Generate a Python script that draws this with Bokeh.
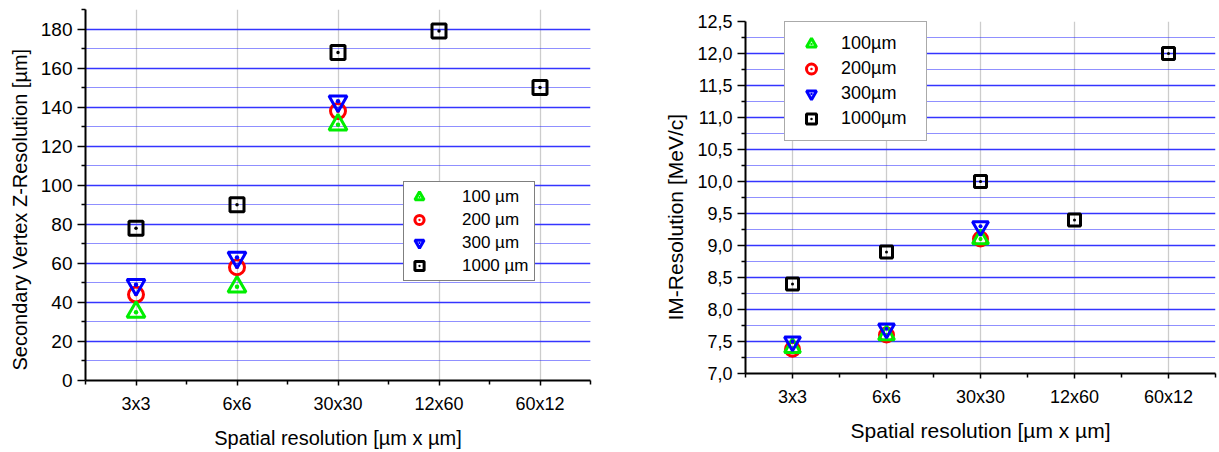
from bokeh.plotting import figure
from bokeh.models import (FixedTicker, CustomJSTickFormatter, Legend, LegendItem,
                          Range1d, Title)
from bokeh.layouts import row, column
from bokeh.embed import file_html
from bokeh.resources import INLINE

# ---------------- data ----------------
categories = ["3x3", "6x6", "30x30", "12x60", "60x12"]

labels_left = ["100 µm", "200 µm", "300 µm", "1000 µm"]
labels_right = ["100µm", "200µm", "300µm", "1000µm"]

# Secondary vertex Z-resolution [µm]
z_100 = [35, 48, 131]
z_200 = [44, 58, 138]
z_300 = [49, 63, 143]
z_1000 = [78, 90, 168, 179, 150]

# IM-resolution [MeV/c]
im_100 = [7.4, 7.6, 9.1]
im_200 = [7.38, 7.6, 9.1]
im_300 = [7.5, 7.7, 9.3]
im_1000 = [8.4, 8.9, 10.0, 9.4, 12.0]

colors = ["#00ee00", "#ff0000", "#0000ff", "#000000"]
markers = ["triangle_dot", "circle_dot", "inverted_triangle", "square_dot"]

FONT = "Liberation Sans"


def xpos(vals):
    return [i + 1 for i in range(len(vals))]


def style(p, tick_size, xtick_size, title_size):
    p.outline_line_color = None
    p.background_fill_color = "white"
    p.border_fill_color = "white"
    for ax in (p.xaxis[0], p.yaxis[0]):
        ax.axis_line_color = "black"
        ax.axis_line_width = 2
        ax.major_tick_line_color = "black"
        ax.minor_tick_line_color = "black"
        ax.major_tick_line_width = 1.5
        ax.minor_tick_line_width = 1.5
        ax.major_tick_in = 0
        ax.minor_tick_in = 0
        ax.major_label_text_font = FONT
        ax.major_label_text_color = "black"
        ax.major_label_text_line_height = 1.0
        ax.axis_label_text_font = FONT
        ax.axis_label_text_font_size = title_size
        ax.axis_label_text_font_style = "normal"
        ax.axis_label_text_color = "black"
        ax.axis_label_text_line_height = 1.0
    p.yaxis.major_label_text_font_size = tick_size
    p.xaxis.major_label_text_font_size = xtick_size
    p.xaxis.major_tick_out = 5
    p.xaxis.minor_tick_out = 4
    p.yaxis.major_tick_out = 8
    p.yaxis.minor_tick_out = 4
    xt = FixedTicker(ticks=[1, 2, 3, 4, 5],
                     minor_ticks=[0.5, 1.5, 2.5, 3.5, 4.5, 5.5])
    p.xaxis.ticker = xt
    p.xgrid.ticker = xt
    p.xaxis.formatter = CustomJSTickFormatter(
        args=dict(labels=categories),
        code="return labels[Math.round(tick) - 1] || '';")
    p.xgrid.grid_line_color = "#cccccc"
    p.xgrid.grid_line_width = 1.3
    p.ygrid.grid_line_color = "#3434ff"
    p.ygrid.grid_line_width = 1.3
    p.ygrid.minor_grid_line_color = "#2020ff"
    p.ygrid.minor_grid_line_width = 1
    p.ygrid.minor_grid_line_dash = "1 1"


def add_series(p, data, sizes):
    # draw order: 200 (red), 100 (green), 300 (blue), 1000 (black)
    rends = [None] * 4
    for idx in (1, 0, 2, 3):
        vals = data[idx]
        r = p.scatter(xpos(vals), vals, marker=markers[idx],
                      size=sizes[idx], fill_color=None,
                      line_color=colors[idx], line_width=3)
        group = [r]
        if markers[idx] == "inverted_triangle":
            d = p.scatter(xpos(vals), vals, marker="dot", size=sizes[idx],
                          line_color=colors[idx], fill_color=colors[idx])
            group.append(d)
        rends[idx] = group
    return rends


def y_title(p, text, size, offset, standoff):
    t = Title(text=text, align="left", offset=offset, standoff=standoff,
              text_font=FONT, text_font_size=size, text_font_style="normal",
              text_color="black")
    p.add_layout(t, "left")


# ---------------- left chart ----------------
left = figure(width=652, height=452, output_backend="svg", toolbar_location=None,
              x_range=Range1d(0.5, 5.5), y_range=Range1d(0, 190),
              min_border_left=85, min_border_right=62,
              min_border_top=9, min_border_bottom=72)
style(left, "19px", "18px", "20px")
lyt = FixedTicker(ticks=list(range(0, 181, 20)),
                  minor_ticks=list(range(10, 191, 20)))
left.yaxis.ticker = lyt
left.ygrid.ticker = lyt
left.xaxis.axis_label = "Spatial resolution [µm x µm]"
left.xaxis.major_label_standoff = 8
left.xaxis.axis_label_standoff = 10
left.yaxis.major_label_standoff = 5
y_title(left, "Secondary Vertex Z-Resolution [µm]", "20px", 10, 13)

rl = add_series(left, [z_100, z_200, z_300, z_1000], [18, 15, 18, 14])
leg_l = Legend(items=[LegendItem(label=labels_left[i], renderers=rl[i]) for i in range(4)],
               location=(318, 99), orientation="vertical",
               glyph_width=24, glyph_height=23, label_height=22,
               label_width=69, label_standoff=31, spacing=0, padding=3,
               label_text_font=FONT, label_text_font_size="17px",
               label_text_color="black",
               border_line_color="black", border_line_width=1,
               background_fill_color="white", background_fill_alpha=1.0)
left.add_layout(leg_l, "center")

# ---------------- right chart ----------------
right = figure(width=567, height=452, output_backend="svg", toolbar_location=None,
               x_range=Range1d(0.5, 5.5), y_range=Range1d(7.0, 12.5),
               min_border_left=93, min_border_right=4,
               min_border_top=21, min_border_bottom=79)
style(right, "18px", "18px", "21px")
ryt = FixedTicker(ticks=[7.0 + 0.5 * i for i in range(12)],
                  minor_ticks=[7.25 + 0.5 * i for i in range(11)])
right.yaxis.ticker = ryt
right.ygrid.ticker = ryt
right.yaxis.formatter = CustomJSTickFormatter(
    code="return tick.toFixed(1).replace('.', ',');")
right.xaxis.axis_label = "Spatial resolution [µm x µm]"
right.xaxis.major_label_standoff = 8
right.xaxis.axis_label_standoff = 9
right.yaxis.major_label_standoff = 5
y_title(right, "IM-Resolution [MeV/c]", "21px", 53, 15)

rr = add_series(right, [im_100, im_200, im_300, im_1000], [16, 14, 16, 12])
leg_r = Legend(items=[LegendItem(label=labels_right[i], renderers=rr[i]) for i in range(4)],
               location=(39, 232), orientation="vertical",
               glyph_width=34, glyph_height=25, label_height=25,
               label_width=76, label_standoff=13, spacing=0, padding=9,
               label_text_font=FONT, label_text_font_size="18px",
               label_text_color="black",
               border_line_color="#555555", border_line_width=1.5,
               background_fill_color="white", background_fill_alpha=1.0)
right.add_layout(leg_r, "center")

layout = row(column(left), column(right), spacing=0)

open("out.html", "w").write(file_html(layout, INLINE))
